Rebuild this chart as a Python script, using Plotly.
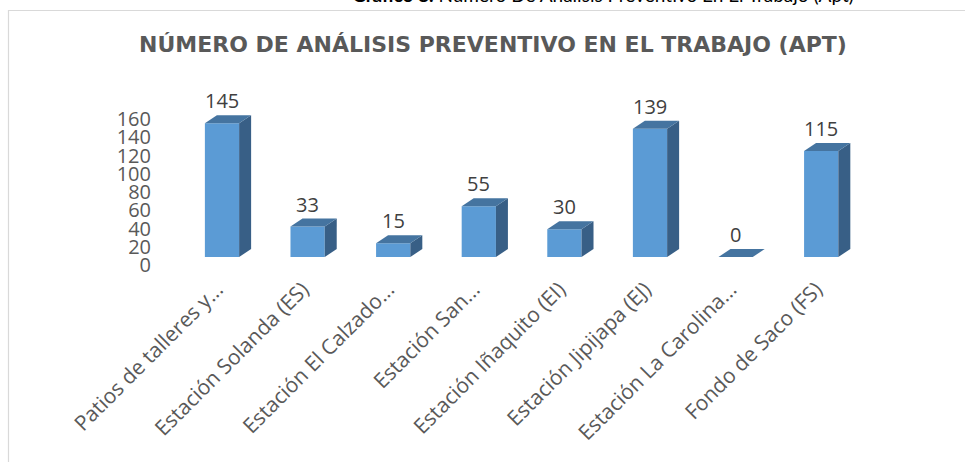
import plotly.graph_objects as go

categories = ["Patios de talleres y...", "Estación Solanda (ES)", "Estación El Calzado...",
              "Estación San...", "Estación Iñaquito (EI)", "Estación Jipijapa (EJ)",
              "Estación La Carolina...", "Fondo de Saco (FS)"]
values = [145, 33, 15, 55, 30, 139, 0, 115]
y_ticks = [0, 20, 40, 60, 80, 100, 120, 140, 160]
title_text = "NÚMERO DE ANÁLISIS PREVENTIVO EN EL TRABAJO (APT)"
caption_text = "<b>Gráfico 8.</b> Número De Análisis Preventivo En El Trabajo (Apt)"

W, H = 965, 462
ML, MR, MT, MB = 152, 65, 90, 190
PW, PH = W - ML - MR, H - MT - MB

# scales
x_px = 85.6          # px per category
y_px = 0.922         # px per unit (bars)
x0 = -(222 - ML) / x_px
xr = [x0, x0 + PW / x_px]
y0 = -(MT + PH - 257) / y_px
yr = [y0, y0 + PH / y_px]
t_px = 0.911
t0 = -(MT + PH - 265) / t_px
tr = [t0, t0 + PH / t_px]

bw = 0.4
dx = 12 / x_px
dy = 8 / y_px

FRONT = "#5B9BD5"
TOP = "#4574A0"
SIDE = "#385F86"
FONT = "Open Sans"

xs = list(range(len(categories)))

fig = go.Figure()
fig.add_trace(go.Bar(x=xs, y=values, width=bw, marker=dict(color=FRONT, line=dict(width=0)),
                     hoverinfo="skip", showlegend=False))
fig.add_trace(go.Scatter(x=[0], y=[0], yaxis="y2", mode="none", hoverinfo="skip", showlegend=False))

shapes = []
for x, v in zip(xs, values):
    l, r = x - bw / 2, x + bw / 2
    if v > 0:
        shapes.append(dict(type="path", xref="x", yref="y", layer="above",
                           path=f"M {r},0 L {r+dx},{dy} L {r+dx},{v+dy} L {r},{v} Z",
                           fillcolor=SIDE, line=dict(width=0)))
    shapes.append(dict(type="path", xref="x", yref="y", layer="above",
                       path=f"M {l},{v} L {r},{v} L {r+dx},{v+dy} L {l+dx},{v+dy} Z",
                       fillcolor=TOP, line=dict(width=0)))

# chart border (light grey), in paper coords
def px2paper_x(px):
    return (px - ML) / PW
def px2paper_y(py):
    return (MT + PH - py) / PH
shapes.append(dict(type="path", xref="paper", yref="paper", layer="above",
                   path=f"M {px2paper_x(8.5)},{px2paper_y(470)} L {px2paper_x(8.5)},{px2paper_y(10.5)} L {px2paper_x(975)},{px2paper_y(10.5)}",
                   line=dict(color="#D9D9D9", width=1.2)))

annotations = []
for x, v in zip(xs, values):
    annotations.append(dict(x=x, y=v, xref="x", yref="y", text=str(v), showarrow=False,
                            yanchor="bottom", yshift=7,
                            font=dict(family=FONT, size=20, color="#404040")))
annotations.append(dict(x=px2paper_x(603), y=px2paper_y(8), xref="paper", yref="paper",
                        text=caption_text, showarrow=False, xanchor="center", yanchor="bottom",
                        font=dict(family="Lato", size=19, color="#000000")))

fig.update_layout(
    width=W, height=H,
    margin=dict(l=ML, r=MR, t=MT, b=MB, pad=0),
    paper_bgcolor="white", plot_bgcolor="white",
    title=dict(text=f"<b>{title_text}</b>", x=493 / W, xanchor="center", xref="container",
               y=1 - 44 / H, yanchor="middle", yref="container",
               font=dict(family="DejaVu Sans", size=22, color="#595959")),
    xaxis=dict(range=xr, tickvals=xs, ticktext=categories, tickangle=-45,
               showgrid=False, zeroline=False, showline=False, ticks="",
               ticklabelshift=-5,
               tickfont=dict(family=FONT, size=21, color="#595959")),
    yaxis=dict(range=yr, visible=False, showgrid=False, zeroline=False),
    yaxis2=dict(range=tr, overlaying="y", side="left", tickvals=y_ticks,
                showgrid=False, zeroline=False, showline=False, ticks="",
                tickfont=dict(family=FONT, size=20, color="#595959")),
    shapes=shapes, annotations=annotations,
    font=dict(family=FONT),
)

fig.write_html("out.html", config={"displayModeBar": False},
               post_script="document.body.style.margin='0px';")
